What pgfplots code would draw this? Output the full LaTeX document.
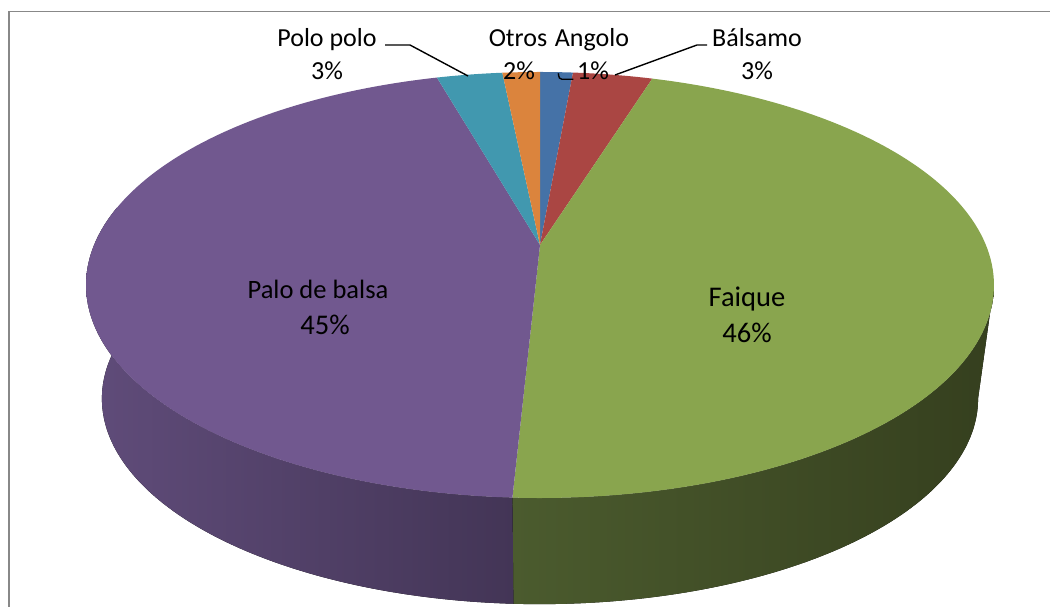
\documentclass[border=0pt]{standalone}
\usepackage{fontspec}
\setmainfont{Carlito}
\usepackage{pgfplots}
\usepackage{pgfplotstable}
\pgfplotsset{compat=1.18}
\usepgfplotslibrary{fillbetween}
\definecolor{cAng}{HTML}{4572A7}
\definecolor{cBal}{HTML}{AA4643}
\definecolor{cFai}{HTML}{89A54E}
\definecolor{cPal}{HTML}{71588F}
\definecolor{cPol}{HTML}{4198AF}
\definecolor{cOtr}{HTML}{DB843D}
\definecolor{sFaiL}{HTML}{4B5B2E}
\definecolor{sFaiR}{HTML}{353F1E}
\definecolor{sPalL}{HTML}{604C7A}
\definecolor{sPalR}{HTML}{433556}
\definecolor{frame}{HTML}{888888}
\pgfplotstableread{
name value
Angolo 1.4
Balsamo 3.4
Faique 46.0
Palo 44.8
Polo 2.8
Otros 1.6
}\piedata
\begin{document}
\begin{tikzpicture}
\pgfplotstablegetelem{0}{value}\of\piedata \pgfmathsetmacro\bA{90-3.6*\pgfplotsretval}
\pgfplotstablegetelem{1}{value}\of\piedata \pgfmathsetmacro\bB{\bA-3.6*\pgfplotsretval}
\pgfplotstablegetelem{2}{value}\of\piedata \pgfmathsetmacro\bC{\bB-3.6*\pgfplotsretval}
\pgfplotstablegetelem{3}{value}\of\piedata \pgfmathsetmacro\bD{\bC-3.6*\pgfplotsretval}
\pgfplotstablegetelem{4}{value}\of\piedata \pgfmathsetmacro\bE{\bD-3.6*\pgfplotsretval}
\pgfplotstablegetelem{5}{value}\of\piedata \pgfmathsetmacro\bF{\bE-3.6*\pgfplotsretval}
\begin{axis}[
  width=1050pt, height=606pt, scale only axis,
  xmin=0, xmax=1050, ymin=0, ymax=606,
  hide axis, clip=false,
  declare function={
    D(\p)=1+0.1878*sin(\p);
    TX(\p)=540+445.9*cos(\p)/D(\p);
    TY(\p)=361+205.5*sin(\p)/D(\p);
    BX(\p)=540+430.3*cos(\p)/D(\p);
    BY(\p)=246+198.3*sin(\p)/D(\p);
  },
  variable=\t,
]
% frame
\draw[frame, line width=1.6pt] (axis cs:9,-10) -- (axis cs:9,594.3) -- (axis cs:1070,594.3);
% side walls
\addplot[name path=ft, draw=none, domain=\bC:-10.8, samples=100] ({TX(\t)},{TY(\t)});
\addplot[name path=fb, draw=none, domain=\bC:-10.8, samples=100] ({BX(\t)},{BY(\t)});
\addplot[left color=sFaiL, right color=sFaiR, draw=none] fill between[of=ft and fb];
\addplot[name path=pt, draw=none, domain=-190.8:\bC, samples=100] ({TX(\t)},{TY(\t)});
\addplot[name path=pb, draw=none, domain=-190.8:\bC, samples=100] ({BX(\t)},{BY(\t)});
\addplot[left color=sPalL, right color=sPalR, draw=none] fill between[of=pt and pb];
% top faces
\addplot[fill=cAng, draw=none, domain=\bA:90, samples=12] ({TX(\t)},{TY(\t)}) -- (axis cs:540,361) -- cycle;
\addplot[fill=cBal, draw=none, domain=\bB:\bA, samples=16] ({TX(\t)},{TY(\t)}) -- (axis cs:540,361) -- cycle;
\addplot[fill=cFai, draw=none, domain=\bC:\bB, samples=120] ({TX(\t)},{TY(\t)}) -- (axis cs:540,361) -- cycle;
\addplot[fill=cPal, draw=none, domain=\bD:\bC, samples=120] ({TX(\t)},{TY(\t)}) -- (axis cs:540,361) -- cycle;
\addplot[fill=cPol, draw=none, domain=\bE:\bD, samples=16] ({TX(\t)},{TY(\t)}) -- (axis cs:540,361) -- cycle;
\addplot[fill=cOtr, draw=none, domain=\bF:\bE, samples=12] ({TX(\t)},{TY(\t)}) -- (axis cs:540,361) -- cycle;
% leader lines
\draw[black, line width=1.4pt] (axis cs:385,561) -- (axis cs:410,561) -- (axis cs:468,530);
\draw[black, line width=1.4pt] (axis cs:558.3,532.7) .. controls (axis cs:559,528) and (axis cs:559.5,526.7) .. (axis cs:562,526.7) -- (axis cs:573.3,526.7);
\draw[black, line width=1.4pt] (axis cs:615,531) -- (axis cs:697,561) -- (axis cs:707,561);
% labels
\begin{scope}[every node/.style={inner sep=0pt, anchor=base, text=black, font=\fontsize{26}{31}\selectfont}]
\node at (axis cs:327,559) {Polo polo};
\node at (axis cs:327,526.5) {3\%};
\node at (axis cs:518,559) {Otros};
\node at (axis cs:519,526.5) {2\%};
\node at (axis cs:592,559) {Angolo};
\node at (axis cs:593,526.5) {1\%};
\node at (axis cs:757,559) {Bálsamo};
\node at (axis cs:757,526.5) {3\%};
\end{scope}
\begin{scope}[every node/.style={inner sep=0pt, anchor=base, text=black, font=\fontsize{28.5}{35}\selectfont}]
\node[font=\fontsize{26.5}{33}\selectfont] at (axis cs:318,307.7) {Palo de balsa};
\node at (axis cs:325,271) {45\%};
\node at (axis cs:747,299.3) {Faique};
\node at (axis cs:747,263.3) {46\%};
\end{scope}
\end{axis}
\pgfresetboundingbox
\path (current axis.south west) rectangle (current axis.north east);
\end{tikzpicture}
\end{document}
